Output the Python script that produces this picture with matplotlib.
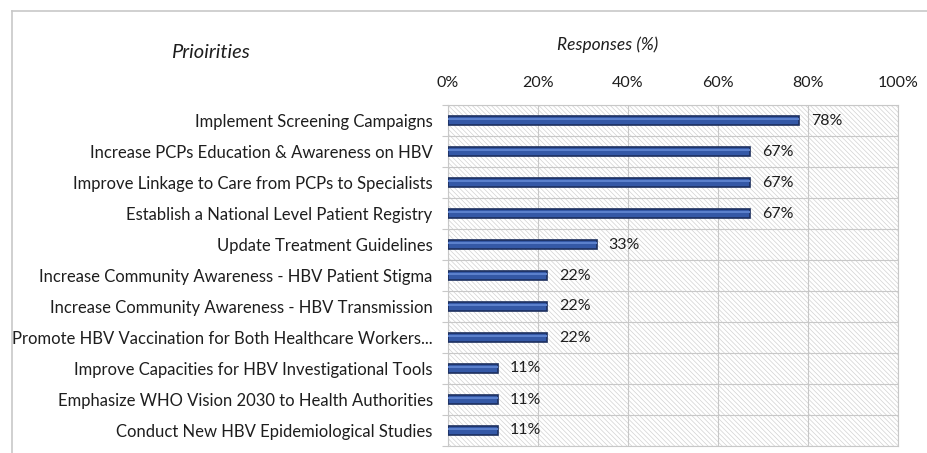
import numpy as np
import matplotlib
matplotlib.use("Agg")
import matplotlib.pyplot as plt
from matplotlib.patches import Rectangle
from matplotlib.lines import Line2D

# data, top to bottom as shown
priorities = [
    "Implement Screening Campaigns",
    "Increase PCPs Education & Awareness on HBV",
    "Improve Linkage to Care from PCPs to Specialists",
    "Establish a National Level Patient Registry",
    "Update Treatment Guidelines",
    "Increase Community Awareness - HBV Patient Stigma",
    "Increase Community Awareness - HBV Transmission",
    "Promote HBV Vaccination for Both Healthcare Workers...",
    "Improve Capacities for HBV Investigational Tools",
    "Emphasize WHO Vision 2030 to Health Authorities",
    "Conduct New HBV Epidemiological Studies",
]
responses = [78, 67, 67, 67, 33, 22, 22, 22, 11, 11, 11]
x_ticks = [0, 20, 40, 60, 80, 100]

plt.rcParams["font.family"] = ["Lato", "DejaVu Sans"]
plt.rcParams["hatch.linewidth"] = 0.5

W, H = 927, 453
fig = plt.figure(figsize=(W / 100, H / 100), dpi=100)

left, right, top, bottom = 448, 898, 105, 446
ax = fig.add_axes([left / W, 1 - bottom / H, (right - left) / W, (bottom - top) / H])

grid_col = "#c8c8c8"
txt_col = "#1e1e1e"

# hatched plot background
ax.add_patch(Rectangle((0, 0), 1, 1, transform=ax.transAxes, facecolor="white",
                       edgecolor="#d2d2d2", hatch="\\" * 7, linewidth=0, zorder=0))

y = np.arange(len(priorities))
ax.barh(y, responses, height=0.27, color="#3458a6", edgecolor="#1c2f5e",
        linewidth=1.2, zorder=3)
# light highlight along the top of each bar
ax.barh(y - 0.04, responses, height=0.07, left=0, color="#5b80cc",
        linewidth=0, zorder=4)

for yi, v in zip(y, responses):
    ax.text(v + 2.7, yi, f"{v}%", va="center", ha="left", fontsize=11.5,
            color=txt_col, zorder=5)

ax.set_xlim(0, 100)
ax.set_ylim(len(priorities) - 0.5, -0.5)

ax.xaxis.tick_top()
ax.set_xticks(x_ticks)
ax.set_xticklabels([f"{t}%" for t in x_ticks], fontsize=11.5, color=txt_col)
ax.tick_params(axis="x", length=0, pad=11)

ax.set_yticks(y)
ax.set_yticklabels(priorities, fontsize=12, color=txt_col)
ax.tick_params(axis="y", which="major", length=0, pad=11)
ax.set_yticks(np.arange(-0.5, len(priorities), 1), minor=True)
ax.tick_params(axis="y", which="minor", length=4, color=grid_col, width=0.8)

ax.grid(axis="x", color=grid_col, linewidth=0.8, zorder=1)
ax.grid(axis="y", which="minor", color=grid_col, linewidth=0.8, zorder=1)
ax.set_axisbelow(True)
for s in ax.spines.values():
    s.set_color(grid_col)
    s.set_linewidth(0.8)

# headings
fig.text(210 / W, 1 - 52 / H, "Prioirities", ha="center", va="center",
         fontsize=14.5, style="italic", color=txt_col)
fig.text(608 / W, 1 - 45 / H, "Responses (%)", ha="center", va="center",
         fontsize=12.5, style="italic", color=txt_col)

# outer frame of the chart
fig.add_artist(Line2D([12 / W, 12 / W], [0, 1 - 11 / H], color="#c8c8c8", linewidth=1.2))
fig.add_artist(Line2D([12 / W, 1], [1 - 11 / H, 1 - 11 / H], color="#c8c8c8", linewidth=1.2))

fig.savefig("out.png", dpi=100)
plt.close(fig)
